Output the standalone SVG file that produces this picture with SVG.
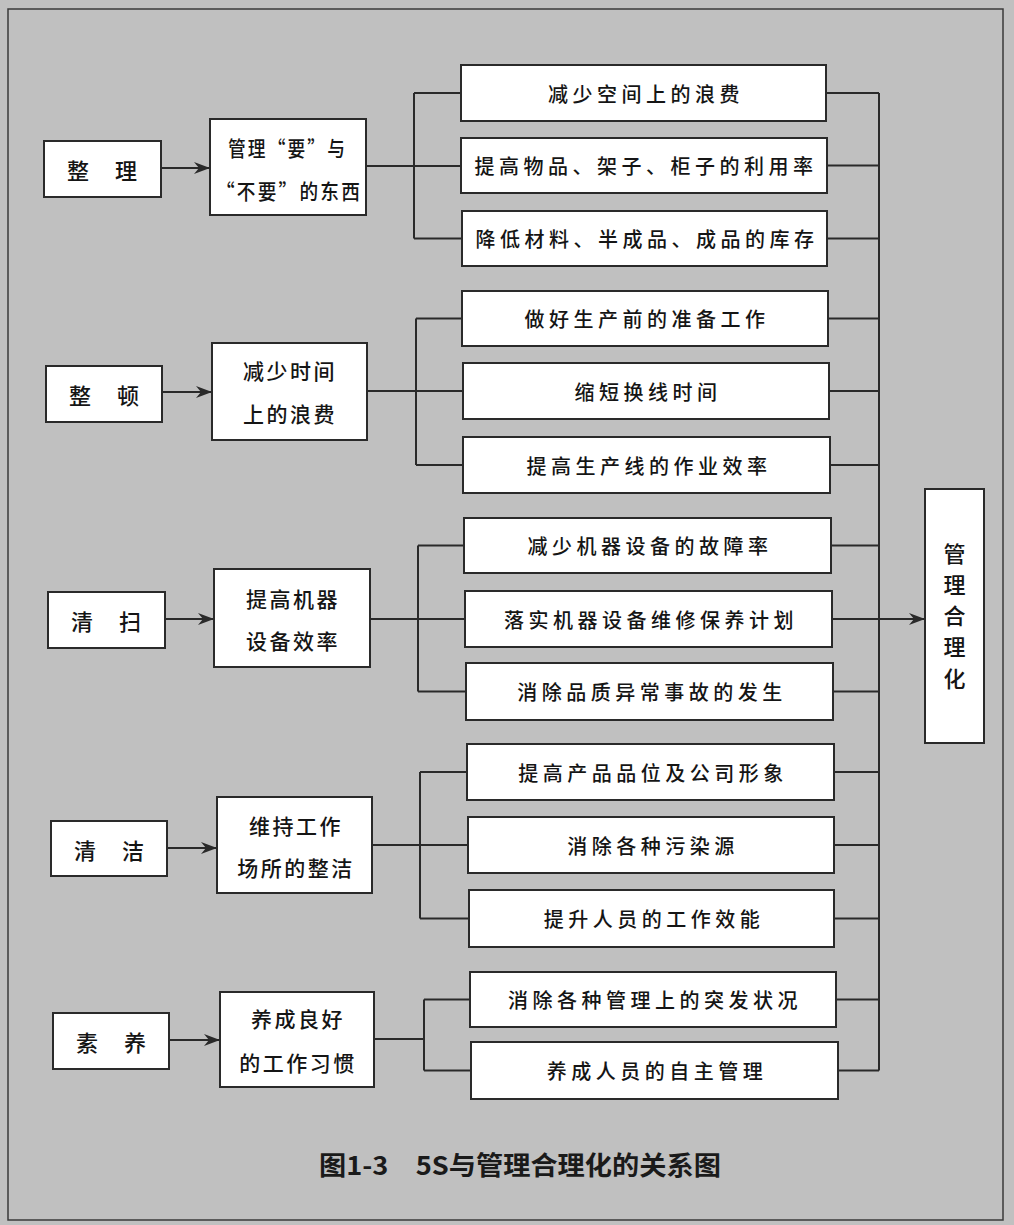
<svg xmlns="http://www.w3.org/2000/svg" width="1014" height="1225" viewBox="0 0 1014 1225">
<style>
.bg{fill:#c0c0c0}
.frame{fill:none;stroke:#3a3a3a;stroke-width:1.5}
.box{fill:#ffffff;stroke:#2a2a2a;stroke-width:2}
.ln{fill:none;stroke:#2a2a2a;stroke-width:2}
.t{font-family:"Noto Sans CJK SC","Noto Sans CJK JP",sans-serif;font-weight:500;fill:#151515;text-anchor:middle;dominant-baseline:central}
.q{text-anchor:start}
.s{font-size:20px;letter-spacing:4.5px}
.m{font-size:21px;letter-spacing:2.5px}
.l{font-size:22px;letter-spacing:2px}
.v{font-size:22px}
.cap{font-family:"Noto Sans CJK SC",sans-serif;font-size:26px;font-weight:bold;fill:#1a1a1a;text-anchor:middle}
</style>
<defs>
<marker id="ah" markerUnits="userSpaceOnUse" viewBox="0 0 16 12" refX="16" refY="6" markerWidth="16" markerHeight="12" orient="auto">
<path d="M0,0 L16,6 L0,12 L5,6 z" fill="#2a2a2a"/>
</marker>
</defs>
<rect class="bg" x="0" y="0" width="1014" height="1225"/>
<rect class="frame" x="8" y="9" width="995" height="1211"/>

<g id="connectors">
<line class="ln" x1="161" y1="168" x2="210" y2="168" marker-end="url(#ah)"/>
<line class="ln" x1="162" y1="392" x2="212" y2="392" marker-end="url(#ah)"/>
<line class="ln" x1="165" y1="619" x2="214" y2="619" marker-end="url(#ah)"/>
<line class="ln" x1="167" y1="848" x2="217" y2="848" marker-end="url(#ah)"/>
<line class="ln" x1="169" y1="1040" x2="220" y2="1040" marker-end="url(#ah)"/>
<path class="ln" d="M366,166 H461 M414,93 V238.5 M414,93 H461 M414,238.5 H462"/>
<path class="ln" d="M367,391 H463 M416,318.5 V465 M416,318.5 H462 M416,465 H463"/>
<path class="ln" d="M370,619 H465 M418,545.5 V691.5 M418,545.5 H464 M418,691.5 H466"/>
<path class="ln" d="M372,845 H468 M420,772 V918.5 M420,772 H467 M420,918.5 H469"/>
<path class="ln" d="M374,1039 H424 M424,999.5 V1070.5 M424,999.5 H470 M424,1070.5 H471"/>
<path class="ln" d="M879,93 V1070.5
M826,93 H879 M827,165.5 H879 M827,238.5 H879
M828,318.5 H879 M829,391 H879 M830,465 H879
M831,545.5 H879 M833,691.5 H879
M834,772 H879 M834,845 H879 M834,918.5 H879
M836,999.5 H879 M838,1070.5 H879"/>
<line class="ln" x1="832" y1="619" x2="925" y2="619" marker-end="url(#ah)"/>
</g>

<g id="n-zhengli"><rect class="box" x="44" y="141" width="117" height="56"/><text class="t l" x="103" y="169">整　理</text></g>
<g id="n-zhengdun"><rect class="box" x="46" y="366" width="116" height="56"/><text class="t l" x="105" y="394">整　顿</text></g>
<g id="n-qingsao"><rect class="box" x="48" y="592" width="117" height="56"/><text class="t l" x="107" y="620">清　扫</text></g>
<g id="n-qingjie"><rect class="box" x="51" y="821" width="116" height="55"/><text class="t l" x="110" y="848.5">清　洁</text></g>
<g id="n-suyang"><rect class="box" x="53" y="1013" width="116" height="56"/><text class="t l" x="112" y="1041">素　养</text></g>

<g id="m-1"><rect class="box" x="210" y="119" width="156" height="96"/><text class="t m q" x="228" y="147" textLength="119" lengthAdjust="spacingAndGlyphs">管理“要”与</text><text class="t m q" x="216" y="190" textLength="146" lengthAdjust="spacingAndGlyphs">“不要”的东西</text></g>
<g id="m-2"><rect class="box" x="212" y="343" width="155" height="97"/><text class="t m" x="290" y="370">减少时间</text><text class="t m" x="290" y="413">上的浪费</text></g>
<g id="m-3"><rect class="box" x="214" y="569" width="156" height="98"/><text class="t m" x="293" y="598">提高机器</text><text class="t m" x="293" y="640">设备效率</text></g>
<g id="m-4"><rect class="box" x="217" y="797" width="155" height="96"/><text class="t m" x="296" y="825">维持工作</text><text class="t m" x="296" y="867">场所的整洁</text></g>
<g id="m-5"><rect class="box" x="220" y="992" width="154" height="95"/><text class="t m" x="298" y="1018">养成良好</text><text class="t m" x="298" y="1062">的工作习惯</text></g>

<g id="b-1"><rect class="box" x="461" y="65" width="365" height="56"/><text class="t s" x="646" y="93">减少空间上的浪费</text></g>
<g id="b-2"><rect class="box" x="461" y="138" width="366" height="55"/><text class="t s" x="646" y="165.5">提高物品、架子、柜子的利用率</text></g>
<g id="b-3"><rect class="box" x="462" y="211" width="365" height="55"/><text class="t s" x="647" y="238.5">降低材料、半成品、成品的库存</text></g>
<g id="b-4"><rect class="box" x="462" y="291" width="366" height="55"/><text class="t s" x="647" y="318.5">做好生产前的准备工作</text></g>
<g id="b-5"><rect class="box" x="463" y="363" width="366" height="56"/><text class="t s" x="648" y="391">缩短换线时间</text></g>
<g id="b-6"><rect class="box" x="463" y="437" width="367" height="56"/><text class="t s" x="649" y="465">提高生产线的作业效率</text></g>
<g id="b-7"><rect class="box" x="464" y="518" width="367" height="55"/><text class="t s" x="650" y="545.5">减少机器设备的故障率</text></g>
<g id="b-8"><rect class="box" x="465" y="591" width="367" height="56"/><text class="t s" x="651" y="619">落实机器设备维修保养计划</text></g>
<g id="b-9"><rect class="box" x="466" y="663" width="367" height="57"/><text class="t s" x="652" y="691.5">消除品质异常事故的发生</text></g>
<g id="b-10"><rect class="box" x="467" y="744" width="367" height="56"/><text class="t s" x="653" y="772">提高产品品位及公司形象</text></g>
<g id="b-11"><rect class="box" x="468" y="817" width="366" height="56"/><text class="t s" x="653" y="845">消除各种污染源</text></g>
<g id="b-12"><rect class="box" x="469" y="890" width="365" height="57"/><text class="t s" x="654" y="918.5">提升人员的工作效能</text></g>
<g id="b-13"><rect class="box" x="470" y="972" width="366" height="55"/><text class="t s" x="655" y="999.5">消除各种管理上的突发状况</text></g>
<g id="b-14"><rect class="box" x="471" y="1042" width="367" height="57"/><text class="t s" x="657" y="1070.5">养成人员的自主管理</text></g>

<g id="n-result"><rect class="box" x="925" y="489" width="59" height="254"/>
<text class="t v" x="954.5" y="552">管</text>
<text class="t v" x="954.5" y="583">理</text>
<text class="t v" x="954.5" y="614">合</text>
<text class="t v" x="954.5" y="645">理</text>
<text class="t v" x="954.5" y="677">化</text>
</g>

<text class="cap" x="520" y="1175" textLength="402" lengthAdjust="spacingAndGlyphs">图1-3　5S与管理合理化的关系图</text>
</svg>
